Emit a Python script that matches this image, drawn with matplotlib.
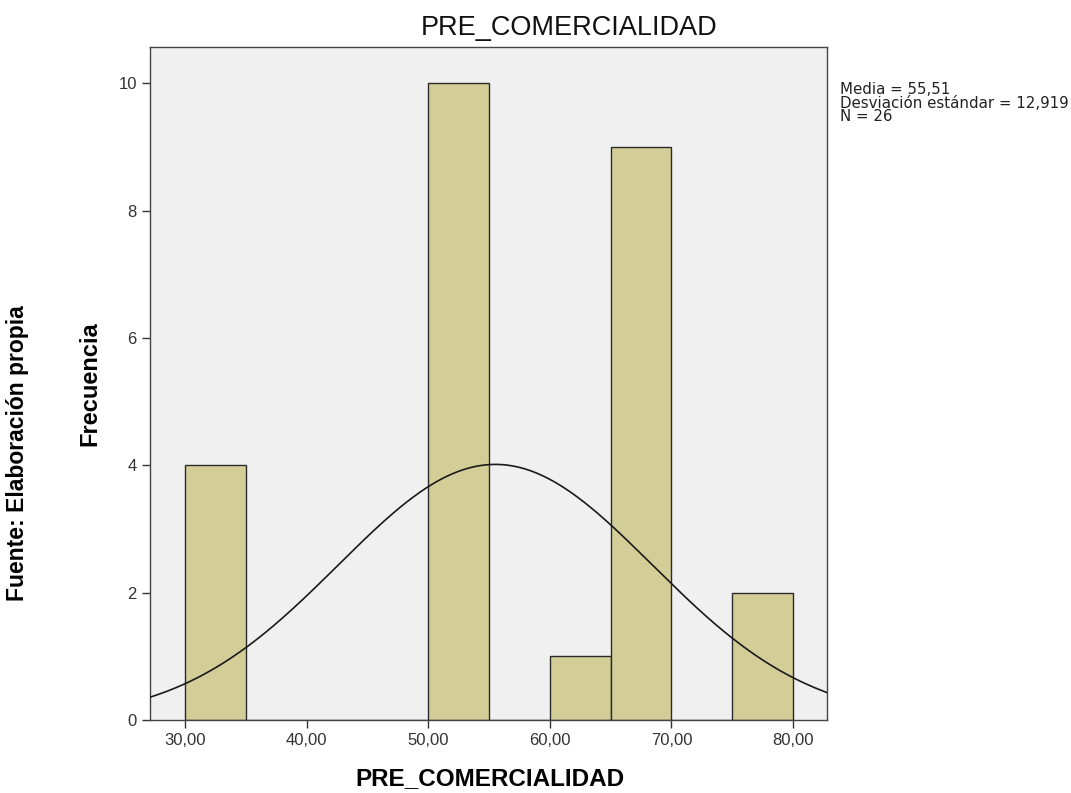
import numpy as np
import matplotlib
matplotlib.use("Agg")
import matplotlib.pyplot as plt

# Histogram data
bin_edges = [30, 35, 40, 45, 50, 55, 60, 65, 70, 75, 80]
counts = [4, 0, 0, 0, 10, 0, 1, 9, 0, 2]
media = 55.51
desv = 12.919
n_total = 26
x_ticks = [30, 40, 50, 60, 70, 80]
x_tick_labels = ["30,00", "40,00", "50,00", "60,00", "70,00", "80,00"]
y_ticks = [0, 2, 4, 6, 8, 10]

plt.rcParams["font.family"] = ["Liberation Sans", "DejaVu Sans"]

W, H = 1071, 793
fig = plt.figure(figsize=(W / 100, H / 100), dpi=100)
ax = fig.add_axes([150 / W, 1 - 720 / H, 677 / W, 673 / H])
ax.set_facecolor("#f0f0f0")

widths = np.diff(bin_edges)
ax.bar(bin_edges[:-1], counts, width=widths, align="edge",
       color="#d3ce97", edgecolor="#2b2b2b", linewidth=1.0, zorder=2)

# normal curve scaled to the histogram
xs = np.linspace(27.1, 82.8, 400)
bw = widths[0]
ys = n_total * bw / (desv * np.sqrt(2 * np.pi)) * np.exp(-0.5 * ((xs - media) / desv) ** 2)
ax.plot(xs, ys, color="#1a1a1a", linewidth=1.2, zorder=3)

ax.set_xlim(27.1, 82.8)
ax.set_ylim(0, 10.57)
ax.set_xticks(x_ticks)
ax.set_xticklabels(x_tick_labels)
ax.set_yticks(y_ticks)
ax.tick_params(direction="out", length=6, width=1, colors="#333333",
               labelsize=12, labelcolor="#333333")
for s in ax.spines.values():
    s.set_color("#444444")
    s.set_linewidth(1.0)

# title sits centred over the whole chart area (plot + stats box)
fig.text(569 / W, 1 - 28 / H, "PRE_COMERCIALIDAD", fontsize=19.5,
         color="#111111", ha="center", va="center")

fig.text(490 / W, 1 - 779 / H, "PRE_COMERCIALIDAD", fontsize=17.5,
         fontweight="bold", ha="center", va="center")
fig.text(90 / W, 1 - 384 / H, "Frecuencia", rotation=90, fontsize=17,
         fontweight="bold", ha="center", va="center")
fig.text(18 / W, 1 - 453 / H, "Fuente: Elaboración propia", rotation=90,
         fontsize=16.5, fontweight="bold", ha="center", va="center")

fig.text(840 / W, 1 - 82 / H,
         f"Media = 55,51\nDesviación estándar = 12,919\nN = {n_total}",
         fontsize=10.8, family=["DejaVu Sans"], ha="left", va="top",
         linespacing=0.88, color="#222222")

fig.savefig("out.png", dpi=100)
